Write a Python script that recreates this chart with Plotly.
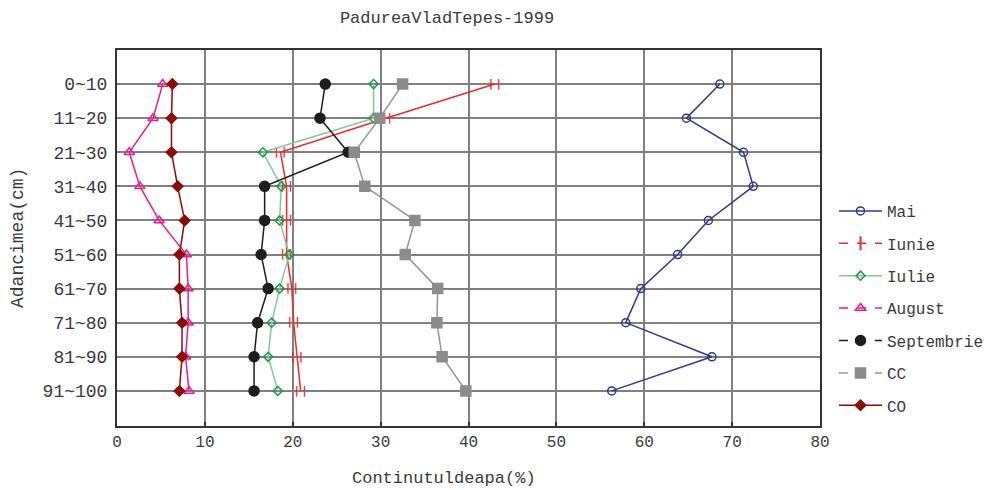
import plotly.graph_objects as go

depth = ["0~10", "11~20", "21~30", "31~40", "41~50", "51~60", "61~70", "71~80", "81~90", "91~100"]
mai = [68.6, 64.8, 71.3, 72.4, 67.3, 63.8, 59.6, 57.9, 67.7, 56.3]
iunie = [43.0, 30.6, 18.6, 19.3, 19.3, 19.3, 19.9, 20.1, 20.5, 20.9]
iulie = [29.2, 29.2, 16.6, 18.7, 18.5, 19.6, 18.5, 17.6, 17.2, 18.3]
august = [5.2, 4.1, 1.4, 2.6, 4.8, 7.9, 8.1, 8.1, 7.8, 8.2]
septembrie = [23.7, 23.1, 26.3, 16.8, 16.8, 16.4, 17.2, 16.0, 15.6, 15.6]
cc = [32.5, 29.9, 27.0, 28.2, 33.9, 32.8, 36.5, 36.4, 37.0, 39.7]
co = [6.3, 6.2, 6.2, 6.9, 7.7, 7.1, 7.1, 7.4, 7.4, 7.1]
x_ticks = [0, 10, 20, 30, 40, 50, 60, 70, 80]

MONO = "Liberation Mono"
TXT = "#3a3a3a"

# page offset (body margin) compensation
OFF = 8
W, H = 994, 490
L, T = 117 - OFF, 50 - OFF
R = W - (820 - OFF)
B = H - (426 - OFF)
PW, PH = W - L - R, H - T - B


def px_x(p):
    return (p - OFF - L) / PW


def px_y(p):
    return (H - B - (p - OFF)) / PH


series = [
    ("Mai", mai, "#2e3a8f", "circle-open", 8, "#2e3a8f", "#2e3a8f", "solid"),
    ("Iunie", iunie, "#ee2a2a", None, 0, "#ee2a2a", "#ee2a2a", "dash"),
    ("Iulie", iulie, "#7fcb98", "diamond-open", 7, "#1e9a4c", "#1e9a4c", "solid"),
    ("August", august, "#ec1c8c", "triangle-up-open", 9, "#ec1c8c", "#ec1c8c", "dash"),
    ("Septembrie", septembrie, "#1e1e1e", "circle", 10, "#1e1e1e", "#1e1e1e", "dash"),
    ("CC", cc, "#939598", "square", 10, "#8c8c8f", "#8c8c8f", "dash"),
    ("CO", co, "#8b0a0a", "diamond", 8, "#8b0a0a", "#8b0a0a", "solid"),
]

fig = go.Figure()

for name, vals, lc, sym, ms, mf, ml, dash in series:
    if sym is None:
        fig.add_trace(go.Scatter(
            x=vals, y=depth, mode="lines+text", text=["<b>| |</b>"] * len(vals),
            textposition="middle center",
            textfont=dict(family="DejaVu Sans", size=11, color=lc),
            line=dict(color=lc, width=1.5), showlegend=False, name=name))
    else:
        fig.add_trace(go.Scatter(
            x=vals, y=depth, mode="lines+markers",
            line=dict(color=lc, width=1.5),
            marker=dict(symbol=sym, size=ms, color=mf, line=dict(color=ml, width=1.5)),
            showlegend=False, name=name))

for i, (name, vals, lc, sym, ms, mf, ml, dash) in enumerate(series):
    fig.add_trace(go.Scatter(
        x=[None], y=[None], mode="lines+markers", name=name,
        legendgroup="g%d" % i,
        line=dict(color=lc, width=1.5, dash=dash),
        marker=dict(symbol=sym if sym else "line-ns-open", size=ms if ms else 10,
                    color=mf, line=dict(color=ml, width=2 if sym is None else 1.5)),
    ))

fig.update_layout(
    width=W, height=H,
    margin=dict(l=L, r=R, t=T, b=B, autoexpand=False),
    paper_bgcolor="white", plot_bgcolor="white",
    title=dict(text="PadureaVladTepes-1999", x=(447 - OFF) / W, xref="container", xanchor="center",
               y=1 - (17 - OFF) / H, yref="container", yanchor="middle",
               font=dict(family=MONO, size=17, color=TXT)),
    legend=dict(x=px_x(834), xanchor="left", y=px_y(194), yanchor="top",
                font=dict(family=MONO, size=16, color=TXT),
                tracegroupgap=8.6, itemwidth=43, bgcolor="rgba(0,0,0,0)"),
    xaxis=dict(range=[0, 80], tickvals=x_ticks, ticktext=[str(v) for v in x_ticks],
               showgrid=True, gridcolor="#808080", gridwidth=2,
               showline=True, linecolor="#333333", linewidth=2, mirror=True,
               ticks="inside", ticklen=4, tickcolor="#333333", tickwidth=1.5,
               tickfont=dict(family=MONO, size=16, color=TXT), zeroline=False),
    yaxis=dict(type="category", categoryorder="array", categoryarray=depth,
               range=[10.03, -1.0],
               showgrid=True, gridcolor="#808080", gridwidth=2,
               showline=True, linecolor="#333333", linewidth=2, mirror=True,
               ticks="", tickfont=dict(family=MONO, size=18, color=TXT),
               ticklabelstandoff=4),
    annotations=[
        dict(text="Continutuldeapa(%)", x=px_x(444), y=px_y(478), xref="paper", yref="paper",
             xanchor="center", yanchor="middle",
             showarrow=False, font=dict(family=MONO, size=17, color=TXT)),
        dict(text="Adancimea(cm)", x=px_x(18), y=px_y(238), xref="paper", yref="paper",
             xanchor="center", yanchor="middle",
             showarrow=False, textangle=-90, font=dict(family=MONO, size=18, color=TXT)),
    ],
)

fig.write_html("out.html")
